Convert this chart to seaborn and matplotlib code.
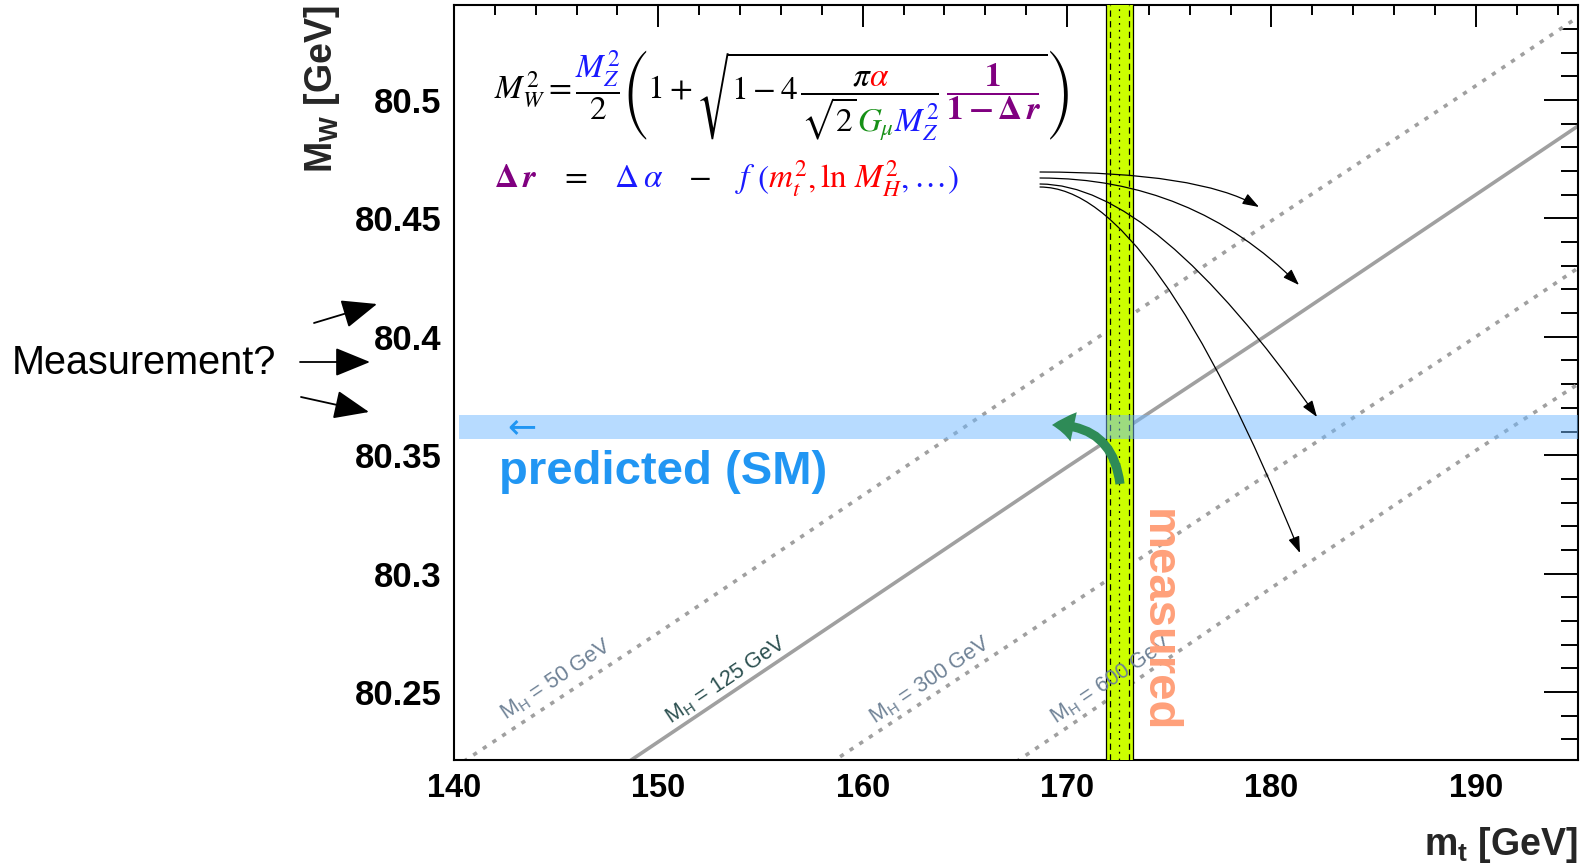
import warnings

import numpy as np
import pandas as pd
import matplotlib
matplotlib.use("Agg")
import matplotlib.pyplot as plt
import seaborn as sns
from matplotlib.font_manager import FontProperties
from matplotlib.mathtext import MathTextParser
from matplotlib.patches import Rectangle, FancyArrowPatch
from matplotlib.ticker import FixedLocator, FixedFormatter, MultipleLocator
from matplotlib.transforms import IdentityTransform

warnings.filterwarnings("ignore")

# ---------------------------------------------------------------- data
mt_grid = [140, 150, 160, 170, 180, 190, 195]                 # m_t [GeV]
mw_mh50 = [80.218, 80.275, 80.333, 80.391, 80.449, 80.506, 80.535]
mw_mh125 = [80.171, 80.229, 80.287, 80.345, 80.402, 80.460, 80.489]
mw_mh300 = [80.115, 80.172, 80.229, 80.286, 80.343, 80.400, 80.429]
mw_mh600 = [80.059, 80.118, 80.177, 80.235, 80.294, 80.352, 80.380]
mh_values = [50, 125, 300, 600]
mh_labels = ["50", "125", "300", "600"]
label_mt = [145.0, 153.3, 163.3, 172.15]
label_mw = 80.255

mt_measured, mt_err_outer, mt_err_inner = 172.56, 0.66, 0.46
mw_predicted, mw_pred_err = 80.362, 0.005

x_ticks = [140, 150, 160, 170, 180, 190]
x_tick_labels = ["140", "150", "160", "170", "180", "190"]
y_ticks = [80.25, 80.30, 80.35, 80.40, 80.45, 80.50]
y_tick_labels = ["80.25", "80.3", "80.35", "80.4", "80.45", "80.5"]

# ---------------------------------------------------------------- style
W, H, DPI = 1582, 864, 100
sns.set_theme(style="white")
plt.rcParams["font.family"] = ["Liberation Sans", "DejaVu Sans"]
plt.rcParams["mathtext.fontset"] = "custom"
plt.rcParams["mathtext.rm"] = "Liberation Sans"
plt.rcParams["mathtext.it"] = "Liberation Sans:italic"
plt.rcParams["mathtext.bf"] = "Liberation Sans:bold"

BLACK, BLUE, RED, GREEN, PURPLE = "#000000", "#1a1aff", "#ff0000", "#169016", "#800080"

fig = plt.figure(figsize=(W / DPI, H / DPI), dpi=DPI)
fig.patch.set_facecolor("white")


def fx(px):
    return px / W


def fy(py):
    # vertical pixel position measured from the top edge
    return 1 - py / H


ax = fig.add_axes([fx(454), fy(760), fx(1578) - fx(454), fy(5) - fy(760)])
ax.set_facecolor("white")
ax.set_xlim(140, 195)
ax.set_ylim(80.2213, 80.5401)

# ---------------------------------------------------------------- M_W(m_t) curves
curves = pd.concat(
    [pd.DataFrame({"mt": mt_grid, "mw": mw, "mh": mh})
     for mh, mw in zip(mh_values, [mw_mh50, mw_mh125, mw_mh300, mw_mh600])],
    ignore_index=True,
)
dot = (1.2, 2.0)
sns.lineplot(
    data=curves, x="mt", y="mw", hue="mh", style="mh",
    palette={50: "#a0a0a0", 125: "#a0a0a0", 300: "#a0a0a0", 600: "#a0a0a0"},
    dashes={50: dot, 125: "", 300: dot, 600: dot},
    linewidth=2.6, legend=False, estimator=None, sort=False, ax=ax, zorder=2,
)
ax.set_xlabel("")
ax.set_ylabel("")

# slope of the curves on screen, used to align their labels
pa = ax.transData.transform((150, mw_mh125[1]))
pb = ax.transData.transform((190, mw_mh125[5]))
angle = np.degrees(np.arctan2(pb[1] - pa[1], pb[0] - pa[0]))
label_colors = ["#6f8296", "#2b4f4f", "#6f8296", "#6f8296"]
for lab, x, col in zip(mh_labels, label_mt, label_colors):
    ax.text(x, label_mw, rf"M$_{{\mathregular{{H}}}}$ = {lab} GeV", rotation=angle,
            rotation_mode="anchor", ha="center", va="center", fontsize=15.5,
            color=col, zorder=6)

# ---------------------------------------------------------------- measured m_t band
ax.axvspan(mt_measured - mt_err_outer, mt_measured + mt_err_outer,
           color="#ccff00", lw=0, zorder=3)
for s in (-1, 1):
    ax.axvline(mt_measured + s * mt_err_outer, color="black", lw=0.9, zorder=3.5)
    ax.axvline(mt_measured + s * mt_err_inner, color="black", lw=0.9,
               ls=(0, (5, 3.5)), zorder=3.5)
ax.axvline(mt_measured, color="black", lw=0.9, ls=(0, (1.5, 4)), zorder=3.5)

# ---------------------------------------------------------------- predicted M_W band
ax.axhspan(mw_predicted - mw_pred_err, mw_predicted + mw_pred_err, xmin=0.0045, xmax=1,
           color="#70b8ff", alpha=0.5, lw=0, zorder=4)

# ---------------------------------------------------------------- axes cosmetics
ax.xaxis.set_major_locator(FixedLocator(x_ticks))
ax.xaxis.set_major_formatter(FixedFormatter(x_tick_labels))
ax.xaxis.set_minor_locator(MultipleLocator(2))
ax.yaxis.set_major_locator(FixedLocator(y_ticks))
ax.yaxis.set_major_formatter(FixedFormatter(y_tick_labels))
ax.yaxis.set_minor_locator(MultipleLocator(0.01))
ax.tick_params(which="both", direction="in", top=True, right=True,
               colors="black", width=1.4)
ax.tick_params(axis="x", which="major", length=16, pad=9.5, labelsize=23.5)
ax.tick_params(axis="x", which="minor", length=7.2)
ax.tick_params(axis="y", which="major", length=24.5, pad=9, labelsize=25)
ax.tick_params(axis="y", which="minor", length=12.2)
for lab in ax.get_xticklabels() + ax.get_yticklabels():
    lab.set_fontweight("bold")
for sp in ax.spines.values():
    sp.set_visible(True)
    sp.set_color("black")
    sp.set_linewidth(1.5)

fig.text(fx(342), fy(5), r"$\mathbf{M}_{\mathbf{W}}$ [GeV]", rotation=90,
         ha="right", va="top", fontsize=27, fontweight="bold")
fig.text(fx(1578), fy(855), r"$\mathbf{m}_{\mathbf{t}}$ [GeV]",
         ha="right", va="baseline", fontsize=27, fontweight="bold")

# ---------------------------------------------------------------- annotations
fig.text(fx(499), fy(472), "predicted (SM)", ha="left", va="center",
         fontsize=34, fontweight="bold", color="#2196f3", zorder=8)
fig.text(fx(522), fy(427), "\u2190", ha="center", va="center", fontsize=25,
         color="#2196f3", family=["DejaVu Sans"], zorder=8)
fig.text(fx(1158), fy(621), "measured", rotation=-90, ha="center", va="center",
         fontsize=34, fontweight="bold", color="#ffa07a", zorder=8)
fig.text(fx(12), fy(363), "Measurement?", ha="left", va="center", fontsize=28.5,
         color="black", zorder=8)


def arrow(p0, p1, style, scale, lw, color, conn="arc3,rad=0", z=8):
    a = FancyArrowPatch((fx(p0[0]), fy(p0[1])), (fx(p1[0]), fy(p1[1])),
                        transform=fig.transFigure, arrowstyle=style,
                        mutation_scale=scale, lw=lw, color=color,
                        connectionstyle=conn, shrinkA=0, shrinkB=0, zorder=z)
    fig.add_artist(a)


big_head = "-|>,head_length=1.1,head_width=0.45"
arrow((314, 323), (377, 304), big_head, 20, 1.3, "black")
arrow((300, 362), (370, 362), big_head, 20, 1.3, "black")
arrow((301, 397), (369, 412), big_head, 20, 1.3, "black")

small_head = "-|>,head_length=1.0,head_width=0.35"
arrow((1040, 172), (1259, 207), small_head, 10, 0.9, "black", "angle3,angleA=0,angleB=-30")
arrow((1040, 178), (1299, 285), small_head, 10, 0.9, "black", "angle3,angleA=0,angleB=-45")
arrow((1040, 184), (1317, 417), small_head, 10, 0.9, "black", "angle3,angleA=0,angleB=-55")
arrow((1040, 187), (1300, 553), small_head, 10, 0.9, "black", "angle3,angleA=0,angleB=-68")

arrow((1120, 484), (1052, 425), "simple,head_length=1.3,head_width=1.8,tail_width=0.55",
      12, 0, "#2e8b57", "arc3,rad=0.45", z=9)

# ---------------------------------------------------------------- formula
math_layout = MathTextParser("path")


def typeset(tex, size):
    return math_layout.parse(tex, dpi=DPI,
                             prop=FontProperties(size=size, math_fontfamily="stix"))


def draw_math(parsed, x0, y0, glyph_color, rect_color):
    px = IdentityTransform()
    for font, size, code, ox, oy in parsed.glyphs:
        fig.text(x0 + ox, y0 + oy, chr(code),
                 fontproperties=FontProperties(fname=font.fname, size=size),
                 color=glyph_color(code, ox, oy), ha="left", va="baseline",
                 transform=px, zorder=9)
    for i, (rx, ry, rw, rh) in enumerate(parsed.rects):
        fig.add_artist(Rectangle((x0 + rx, y0 + ry), rw, rh, transform=px,
                                 facecolor=rect_color(i), edgecolor="none", zorder=9))


bold_r = r"\boldsymbol{r}"
tex1_t = (r"$M_W^2=\dfrac{M_Z^2}{2}\left(1+\sqrt{1-4\,\dfrac{\pi\alpha}"
          r"{\sqrt{2}G_\mu M_Z^2}\,\dfrac{\mathbf{1}}{\mathbf{1-\Delta}\,%s}}\right)$")
try:
    typeset(tex1_t % bold_r, 20)
except Exception:
    bold_r = r"\mathbf{r}"
tex1 = tex1_t % bold_r

fs1 = 20 * 578 / typeset(tex1, 20).width
p1 = typeset(tex1, fs1)

order = sorted(range(len(p1.rects)), key=lambda i: p1.rects[i][2])
frac_idx = sorted(order[1:-1], key=lambda i: p1.rects[i][0])
b1, b2, b3 = (p1.rects[i] for i in frac_idx)


def within(ox, r):
    return r[0] - 1 <= ox < r[0] + r[2] - 1


den2 = [(c, ox) for f, s, c, ox, oy in p1.glyphs if within(ox, b2) and oy < b2[1]]
x_G = min(ox for c, ox in den2 if c == ord("G"))
x_M = min(ox for c, ox in den2 if c == ord("M"))


def color1(code, ox, oy):
    if within(ox, b1) and oy > b1[1]:
        return BLUE
    if within(ox, b2):
        if oy > b2[1]:
            return RED if code == 0x3B1 else BLACK
        if ox >= x_M - 0.5:
            return BLUE
        if ox >= x_G - 0.5:
            return GREEN
        return BLACK
    if within(ox, b3):
        return PURPLE
    return BLACK


def rect1(i):
    return PURPLE if i == frac_idx[2] else BLACK


draw_math(p1, 495, H - 99, color1, rect1)

tex2_t = (r"$\mathbf{\Delta}\,%s\hspace{%.3f}=\hspace{%.3f}\Delta\,\alpha\hspace{%.3f}-"
          r"\hspace{%.3f}f\,\,(m_t^2,\ln\,M_H^2,\ldots)$")
w0 = typeset(tex2_t % (bold_r, 0, 0, 0, 0), fs1).width
w1 = typeset(tex2_t % (bold_r, 1, 1, 1, 1), fs1).width
gap = max(0.0, (463 - w0) / (w1 - w0))
p2 = typeset(tex2_t % (bold_r, gap, gap, gap, gap), fs1)


def first_x(code):
    return min(ox for f, s, c, ox, oy in p2.glyphs if c == code)


x_eq, x_minus, x_m = first_x(ord("=")), first_x(0x2212), first_x(ord("m"))
commas = sorted(ox for f, s, c, ox, oy in p2.glyphs if c == ord(","))
x_c2 = commas[1]


def color2(code, ox, oy):
    if ox < x_eq - 0.5:
        return PURPLE
    if ox < x_eq + 0.5:
        return BLACK
    if ox < x_minus - 0.5:
        return BLUE
    if ox < x_minus + 0.5:
        return BLACK
    if ox < x_m - 0.5:
        return BLUE
    if ox < x_c2 - 0.5:
        return RED
    return BLUE


draw_math(p2, 495, H - 188, color2, lambda i: BLACK)

fig.savefig("out.png", dpi=DPI)
